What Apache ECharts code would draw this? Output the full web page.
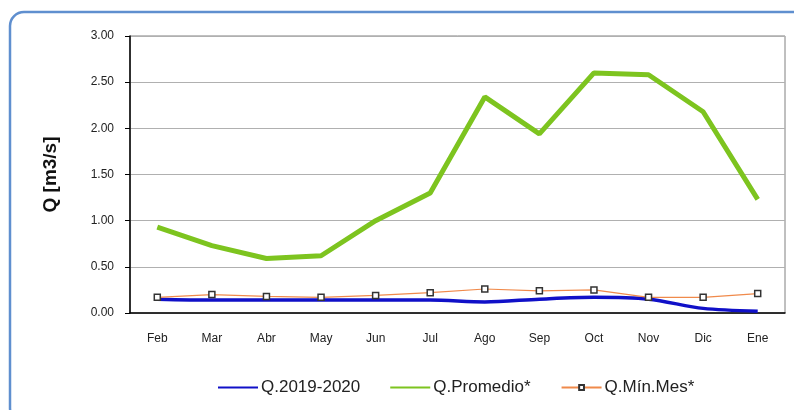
<!DOCTYPE html>
<html><head><meta charset="utf-8">
<script src="https://cdn.jsdelivr.net/npm/echarts@6/dist/echarts.min.js"></script>
<style>html,body{margin:0;padding:0;background:#fff}#c{width:794px;height:410px}</style>
</head><body><div id="c"></div>
<script>
const months = ['Feb','Mar','Abr','May','Jun','Jul','Ago','Sep','Oct','Nov','Dic','Ene'];
const q20192020 = [0.15,0.14,0.14,0.14,0.14,0.14,0.12,0.15,0.17,0.15,0.05,0.02];
const qPromedio = [0.93,0.73,0.59,0.62,1.00,1.30,2.34,1.94,2.60,2.58,2.18,1.23];
const qMinMes = [0.17,0.20,0.18,0.17,0.19,0.22,0.26,0.24,0.25,0.17,0.17,0.21];
const yTicks = ['0.00','0.50','1.00','1.50','2.00','2.50','3.00'];

const chart = echarts.init(document.getElementById('c'), null, {renderer:'canvas'});
const font = 'Liberation Sans, Arial, sans-serif';
const lineIcon = 'path://M0,0H40V2H0Z';
chart.setOption({
  animation:false,
  textStyle:{fontFamily:font},
  graphic:[{type:'rect',shape:{x:10,y:12,width:800,height:410,r:14},
    style:{fill:'none',stroke:'#5f8fcf',lineWidth:2.5},z:-1}],
  grid:{left:130,right:9,top:36,bottom:97,show:true,borderColor:'#808080',borderWidth:1},
  legend:{top:374,left:213,itemGap:30,itemWidth:40,itemHeight:6,
    lineStyle:{width:2},
    textStyle:{fontSize:17,color:'#222',fontFamily:font,padding:[0,0,0,-2]},
    data:[{name:'Q.2019-2020',icon:lineIcon},{name:'Q.Promedio*',icon:lineIcon},'Q.Mín.Mes*']},
  xAxis:{type:'category',data:months,boundaryGap:true,
    axisLine:{lineStyle:{color:'#000',width:1.5}},
    axisTick:{inside:true,length:4,lineStyle:{color:'#000'}},
    axisLabel:{color:'#222',fontSize:12,margin:20}},
  yAxis:{type:'value',min:0,max:3,interval:0.5,
    name:'Q [m3/s]',nameLocation:'middle',nameGap:70,
    nameTextStyle:{fontSize:19,fontWeight:'bold',color:'#111',fontFamily:font},
    axisLine:{show:true,lineStyle:{color:'#000',width:1.5}},
    axisTick:{show:true,length:5,lineStyle:{color:'#000'}},
    axisLabel:{color:'#222',fontSize:12,margin:16,formatter:(v)=>yTicks[Math.round(v/0.5)]},
    splitLine:{lineStyle:{color:'#b0b0b0',width:1.2}}},
  series:[
    {name:'Q.2019-2020',type:'line',data:q20192020,smooth:0.3,symbol:'none',
      lineStyle:{color:'#1010c8',width:3.5},itemStyle:{color:'#1010c8'},z:3},
    {name:'Q.Promedio*',type:'line',data:qPromedio,symbol:'none',
      lineStyle:{color:'#7dc41f',width:5},itemStyle:{color:'#7dc41f'},z:2},
    {name:'Q.Mín.Mes*',type:'line',data:qMinMes,symbol:'rect',symbolSize:6,
      lineStyle:{color:'#f08a4b',width:1.2},
      itemStyle:{color:'#fff',borderColor:'#333',borderWidth:1.5},z:4}
  ]
});
</script></body></html>
